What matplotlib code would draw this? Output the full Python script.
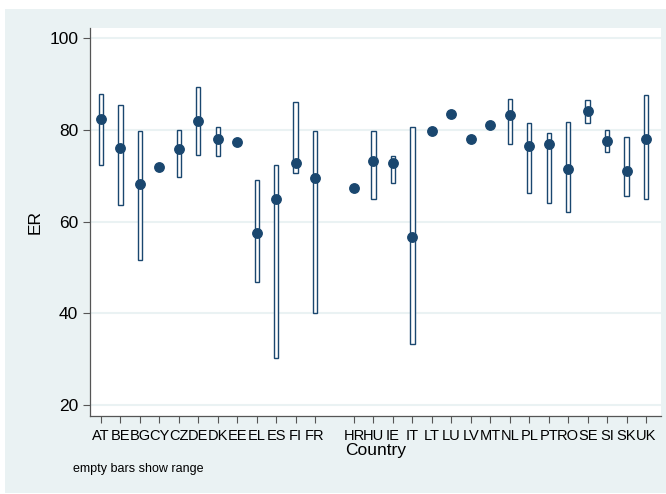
import numpy as np
import matplotlib
matplotlib.use("Agg")
import matplotlib.pyplot as plt
from matplotlib.patches import Rectangle

# country codes on the x axis (slot 13 is an empty category in the source)
countries = ["AT", "BE", "BG", "CY", "CZ", "DE", "DK", "EE", "EL", "ES", "FI", "FR", "",
             "HR", "HU", "IE", "IT", "LT", "LU", "LV", "MT", "NL", "PL", "PT", "RO",
             "SE", "SI", "SK", "UK"]
nan = np.nan
er = [82.4, 76.0, 68.2, 71.9, 75.9, 82.0, 78.1, 77.3, 57.6, 65.0, 72.8, 69.4, nan,
      67.3, 73.2, 72.8, 56.6, 79.7, 83.5, 78.1, 81.0, 83.3, 76.4, 76.9, 71.4,
      84.0, 77.5, 71.1, 78.1]
er_min = [72.3, 63.5, 51.6, nan, 69.7, 74.6, 74.3, nan, 46.8, 30.3, 70.5, 40.1, nan,
          nan, 64.9, 68.4, 33.2, nan, nan, nan, nan, 76.9, 66.3, 64.1, 62.1,
          81.5, 75.2, 65.6, 65.0]
er_max = [87.8, 85.4, 79.7, nan, 79.9, 89.4, 80.6, nan, 69.0, 72.3, 86.1, 79.7, nan,
          nan, 79.7, 74.2, 80.6, nan, nan, nan, nan, 86.8, 81.4, 79.2, 81.7,
          86.4, 80.0, 78.4, 87.5]
yticks = [20, 40, 60, 80, 100]

navy = "#1a476f"
bg = "#eaf2f3"

plt.rcParams['font.family'] = ['Liberation Sans', 'DejaVu Sans']

fig = plt.figure(figsize=(6.66, 4.94), dpi=100)
fig.patch.set_facecolor("white")
# stata style graph region
fig.patches.append(Rectangle((5 / 666, 1 / 494), 661 / 666, 484 / 494,
                             transform=fig.transFigure, facecolor=bg,
                             edgecolor="none", zorder=-10))

ax = fig.add_axes([90 / 666, 78 / 494, 571 / 666, 388 / 494])
ax.set_zorder(1)
ax.set_facecolor("white")

x = np.arange(1, len(countries) + 1)
lo = np.array(er_min)
hi = np.array(er_max)
ax.bar(x, hi - lo, bottom=lo, width=0.22, facecolor="white", edgecolor=navy,
       linewidth=1.0, zorder=2)
ax.plot(x, er, "o", color=navy, markersize=6.8, zorder=3, linestyle="none")

ax.set_xlim(0.44, 29.77)
ax.set_ylim(17.6, 102.2)
ax.set_yticks(yticks)
ax.set_xticks(x[np.array(countries) != ""])
ax.set_xticklabels([c for c in countries if c != ""], fontsize=10.5)
ax.tick_params(axis="y", labelsize=12.5, length=5, width=0.8, color="#555555")
ax.tick_params(axis="x", length=5, width=0.8, color="#555555", pad=4)
ax.grid(axis="y", color=bg, linewidth=1.5, zorder=0)
ax.set_axisbelow(True)

for s in ["top", "right"]:
    ax.spines[s].set_visible(False)
for s in ["left", "bottom"]:
    ax.spines[s].set_color("#555555")
    ax.spines[s].set_linewidth(0.9)

ax.set_ylabel("ER", fontsize=12.5, labelpad=5)
ax.set_xlabel("Country", fontsize=12.5, labelpad=0)
fig.text(73 / 666, 1 - 469 / 494, "empty bars show range", fontsize=9,
         va="center", ha="left")

fig.savefig("out.png", dpi=100)
